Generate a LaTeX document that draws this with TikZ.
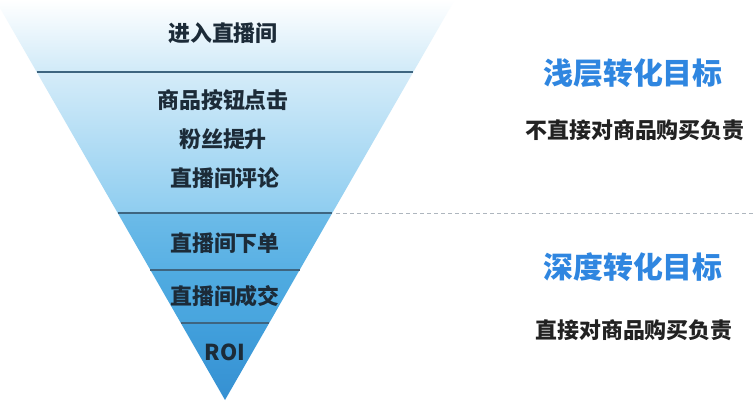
\documentclass[tikz,border=0pt]{standalone}
\usepackage{fontspec}
\newfontfamily\cjk{Noto Sans CJK SC}
\definecolor{divline}{HTML}{3E6580}
\definecolor{txtdark}{HTML}{1C2B38}
\definecolor{titleblue}{HTML}{2F86E0}
\definecolor{subdark}{HTML}{222222}
\definecolor{dashgray}{HTML}{AEB6BE}
\tikzset{
  band/.style={draw=none},
  divider/.style={draw=divline, line width=2bp},
  funneltext/.style={font=\cjk\bfseries\fontsize{22}{26}\selectfont, text=txtdark, inner sep=0pt},
  titletext/.style={font=\cjk\bfseries\fontsize{30}{34}\selectfont, text=titleblue, inner sep=0pt},
  subtext/.style={font=\cjk\bfseries\fontsize{22}{26}\selectfont, text=subdark, inner sep=0pt},
}
\begin{document}
\begin{tikzpicture}[x=1bp,y=1bp]
\useasboundingbox[fill=white] (0,0) rectangle (753,403);
% bands
\shade[band, top color=white, bottom color={rgb,255:red,208;green,234;blue,248}] (-4.6,403) -- (454.6,403) -- (413.3,331) -- (36.7,331) -- cycle;
\shade[band, top color={rgb,255:red,213;green,236;blue,249}, bottom color={rgb,255:red,142;green,205;blue,240}] (36.7,331) -- (413.3,331) -- (332.3,190) -- (117.7,190) -- cycle;
\shade[band, top color={rgb,255:red,108;green,187;blue,232}, bottom color={rgb,255:red,88;green,176;blue,228}] (117.7,190) -- (332.3,190) -- (299.6,133) -- (150.4,133) -- cycle;
\shade[band, top color={rgb,255:red,80;green,171;blue,225}, bottom color={rgb,255:red,72;green,165;blue,222}] (150.4,133) -- (299.6,133) -- (269.2,80) -- (180.8,80) -- cycle;
\shade[band, top color={rgb,255:red,66;green,160;blue,220}, bottom color={rgb,255:red,53;green,144;blue,210}] (180.8,80) -- (269.2,80) -- (225,3) -- cycle;
% dividers
\draw[divider] (36.7,331) -- (413.3,331);
\draw[divider] (117.7,190) -- (332.3,190);
\draw[divider, line width=1.6bp] (150.4,133) -- (299.6,133);
\draw[divider, line width=1.6bp] (180.8,80) -- (269.2,80);
% dashed separator
\draw[dashgray, line width=1bp, dash pattern=on 4bp off 3bp] (336,190) -- (753,190);
% funnel texts
\node[funneltext] (n1) at (223,370) {进入直播间};
\node[funneltext] (n2) at (223,303) {商品按钮点击};
\node[funneltext] (n3) at (223,264) {粉丝提升};
\node[funneltext] (n4) at (225,225) {直播间评论};
\node[funneltext] (n5) at (225,160) {直播间下单};
\node[funneltext] (n6) at (225,107) {直播间成交};
\node[funneltext] (n7) at (225,51) {ROI};
% right texts
\node[titletext] (t1) at (633,330) {浅层转化目标};
\node[subtext] (s1) at (635,273) {不直接对商品购买负责};
\node[titletext] (t2) at (633,136) {深度转化目标};
\node[subtext] (s2) at (634,73) {直接对商品购买负责};
\end{tikzpicture}
\end{document}
